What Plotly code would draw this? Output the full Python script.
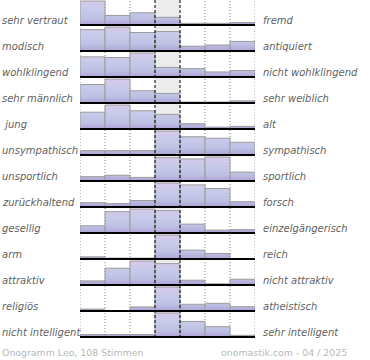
import plotly.graph_objects as go

# ---- data (relative share per answer step, row maximum = 100) ----
left_labels = ["sehr vertraut", "modisch", "wohlklingend", "sehr männlich", " jung",
               "unsympathisch", "unsportlich", "zurückhaltend", "gesellig", "arm",
               "attraktiv", "religiös", "nicht intelligent"]
right_labels = ["fremd", "antiquiert", "nicht wohlklingend", "sehr weiblich", "alt",
                "sympathisch", "sportlich", "forsch", "einzelgängerisch", "reich",
                "nicht attraktiv", "atheistisch", "sehr intelligent"]

vertraut = [100, 40, 51, 32, 7, 7, 10]
modisch = [89, 100, 77, 81, 20, 25, 40]
wohlklingend = [84, 81, 100, 40, 35, 21, 27]
maennlich = [77, 100, 51, 40, 4, 4, 9]
jung = [70, 100, 76, 61, 22, 8, 11]
unsympathisch = [18, 18, 18, 100, 76, 70, 53]
unsportlich = [18, 24, 15, 97, 92, 100, 37]
zurueckhaltend = [18, 14, 27, 100, 92, 77, 22]
gesellig = [30, 89, 100, 93, 37, 12, 14]
arm = [9, 4, 4, 100, 37, 23, 0]
attraktiv = [17, 70, 100, 89, 20, 5, 24]
religioes = [8, 0, 17, 100, 28, 32, 18]
unintelligent = [10, 10, 10, 100, 65, 43, 7]

rows = [vertraut, modisch, wohlklingend, maennlich, jung, unsympathisch, unsportlich,
        zurueckhaltend, gesellig, arm, attraktiv, religioes, unintelligent]

footer_left = "Onogramm Leo, 108 Stimmen"
footer_right = "onomastik.com - 04 / 2025"

# ---- geometry (y axis in pixel-like units) ----
PITCH = 26
FULL = 24
FIRST = 25
N_STEPS = 7
TOTAL = 338
PLOT_L = 80
PLOT_W = 175

def baseline(i):
    return -(FIRST + PITCH * i)

def px_to_paper_x(px):
    return (px - PLOT_L) / PLOT_W

gradient = [[0.0, "#a294cc"], [0.08, "#b2aedb"], [0.3, "#bfc2e5"],
            [0.7, "#c8cbea"], [1.0, "#dac8e8"]]

fig = go.Figure()

for i, vals in enumerate(rows):
    b = baseline(i)
    for j, v in enumerate(vals):
        if v <= 0:
            continue
        h = v / 100 * FULL
        fig.add_trace(go.Scatter(
            x=[j, j, j + 1, j + 1, j],
            y=[b, b + h, b + h, b, b],
            mode="lines", fill="toself",
            line=dict(color="#9c9c9c", width=1),
            fillgradient=dict(type="vertical", colorscale=gradient,
                              start=b, stop=b + FULL),
            hoverinfo="skip", showlegend=False))

shapes = []
shapes.append(dict(type="rect", xref="x", yref="paper", x0=3, x1=4, y0=0, y1=1,
                   fillcolor="#ececec", line=dict(width=0), layer="below"))
for xv in [0, 1, 2, 5, 6, 7]:
    shapes.append(dict(type="line", xref="x", yref="paper", x0=xv, x1=xv, y0=0, y1=1,
                       line=dict(color="#808080", width=1, dash="1px,2px"), layer="below"))
for xv in [3, 4]:
    shapes.append(dict(type="line", xref="x", yref="paper", x0=xv, x1=xv, y0=0, y1=1,
                       line=dict(color="#000000", width=1, dash="3px,2px"), layer="above"))
for i in range(len(rows)):
    b = baseline(i)
    shapes.append(dict(type="line", xref="x", yref="y", x0=0, x1=N_STEPS, y0=b, y1=b,
                       line=dict(color="#000000", width=2), layer="above"))

annotations = []
lab_font = dict(family="DejaVu Sans", size=10, color="#626262", style="italic")
for i in range(len(rows)):
    b = baseline(i)
    annotations.append(dict(text=left_labels[i], xref="paper", yref="y",
                            x=px_to_paper_x(0), y=b + 5,
                            xanchor="left", yanchor="middle", showarrow=False,
                            font=lab_font))
    annotations.append(dict(text=right_labels[i], xref="paper", yref="y",
                            x=px_to_paper_x(261), y=b + 5,
                            xanchor="left", yanchor="middle", showarrow=False,
                            font=lab_font))

foot_font = dict(family="DejaVu Sans", size=9.4, color="#b8b8b8")
annotations.append(dict(text=footer_left, xref="paper", yref="paper",
                        x=px_to_paper_x(0), y=(TOTAL - 352) / TOTAL,
                        xanchor="left", yanchor="middle", showarrow=False, font=foot_font))
annotations.append(dict(text=footer_right, xref="paper", yref="paper",
                        x=px_to_paper_x(349), y=(TOTAL - 352) / TOTAL,
                        xanchor="right", yanchor="middle", showarrow=False, font=foot_font))

fig.update_layout(
    width=370, height=360,
    margin=dict(l=80, r=115, t=0, b=22, pad=0),
    paper_bgcolor="white", plot_bgcolor="white",
    xaxis=dict(range=[0, N_STEPS], showgrid=False, zeroline=False, showticklabels=False,
               showline=False, fixedrange=True),
    yaxis=dict(range=[-TOTAL, 0], showgrid=False, zeroline=False, showticklabels=False,
               showline=False, fixedrange=True),
    shapes=shapes, annotations=annotations,
)

fig.write_html("out.html", config={"displayModeBar": False},
               post_script="document.body.style.margin='0';")
